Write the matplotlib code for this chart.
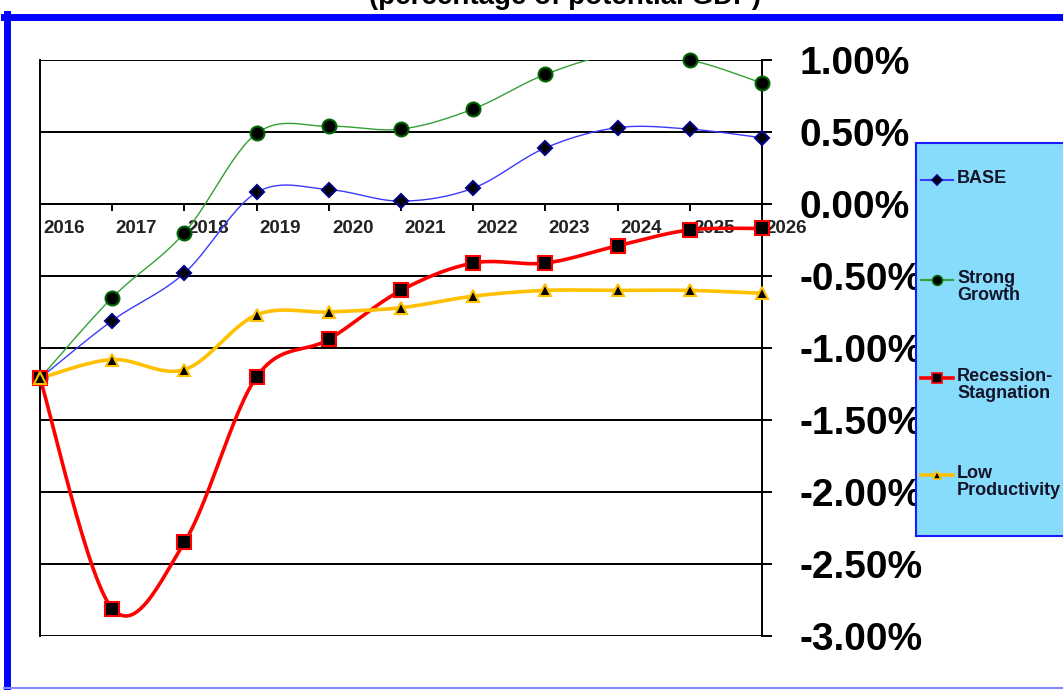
import numpy as np
import matplotlib.pyplot as plt
from matplotlib.lines import Line2D

plt.rcParams['font.family'] = ['Liberation Sans', 'DejaVu Sans']

years = ['2016', '2017', '2018', '2019', '2020', '2021',
         '2022', '2023', '2024', '2025', '2026']

# output gap, % of potential GDP
base       = [-1.21, -0.81, -0.48, 0.08, 0.10, 0.02, 0.11, 0.39, 0.53, 0.52, 0.46]
strong     = [-1.21, -0.65, -0.20, 0.49, 0.54, 0.52, 0.66, 0.90, 1.04, 1.00, 0.84]
recession  = [-1.21, -2.81, -2.35, -1.20, -0.94, -0.60, -0.41, -0.41, -0.29, -0.18, -0.17]
low_prod   = [-1.21, -1.08, -1.15, -0.77, -0.75, -0.72, -0.64, -0.60, -0.60, -0.60, -0.62]

yticks = [1.0, 0.5, 0.0, -0.5, -1.0, -1.5, -2.0, -2.5, -3.0]
ytick_labels = ['1.00%', '0.50%', '0.00%', '-0.50%', '-1.00%',
                '-1.50%', '-2.00%', '-2.50%', '-3.00%']

W, H = 1063, 690


def fx(x):
    return x / W


def fy(y):
    return 1 - y / H


def smooth(xs, ys, n=30):
    """
    Catmull-Rom style bezier smoothing through every point.
    """
    xs = np.asarray(xs, float)
    ys = np.asarray(ys, float)
    px = np.concatenate(([xs[0]], xs, [xs[-1]]))
    py = np.concatenate(([ys[0]], ys, [ys[-1]]))
    t = np.linspace(0, 1, n)
    outx, outy = [], []
    for i in range(len(xs) - 1):
        p0 = np.array([px[i + 1], py[i + 1]])
        p3 = np.array([px[i + 2], py[i + 2]])
        c1 = p0 + (p3 - np.array([px[i], py[i]])) / 6
        c2 = p3 - (np.array([px[i + 3], py[i + 3]]) - p0) / 6
        b = ((1 - t) ** 3)[:, None] * p0 + (3 * (1 - t) ** 2 * t)[:, None] * c1 \
            + (3 * (1 - t) * t ** 2)[:, None] * c2 + (t ** 3)[:, None] * p3
        outx.extend(b[:, 0])
        outy.extend(b[:, 1])
    return outx, outy


fig = plt.figure(figsize=(W / 100, H / 100), dpi=100)

ax = fig.add_axes([fx(40), fy(636), fx(762 - 40), (636 - 60) / H])
ax.set_xlim(0, 10)
ax.set_ylim(-3, 1)

series = [
    (base, '#3a3aff', 1.0, 'D', 7, '#000080'),
    (strong, '#33a033', 1.0, 'o', 10, '#006400'),
    (recession, '#ff0000', 2.6, 's', 10, '#ff0000'),
    (low_prod, '#ffc000', 2.6, '^', 9, '#ffc000'),
]
x = np.arange(len(years))
for vals, col, lw, mk, ms, mec in series:
    sx, sy = smooth(x, vals)
    ax.plot(sx, sy, color=col, lw=lw, zorder=3)
    vals = np.array(vals)
    inside = (vals <= 1.0) & (vals >= -3.0)
    ax.plot(x[inside], vals[inside], ls='none', marker=mk, ms=ms,
            mfc='black', mec=mec, mew=1.5, zorder=4, clip_on=False)

# horizontal grid and frame
for v in yticks:
    ax.axhline(v, color='black', lw=1.4, zorder=1)
ax.spines['top'].set_visible(False)
ax.spines['left'].set_linewidth(1.4)
ax.spines['right'].set_linewidth(1.4)
ax.spines['bottom'].set_position(('data', 0))
ax.spines['bottom'].set_linewidth(1.4)

ax.set_xticks(x[1:])
ax.set_xticklabels([])
ax.tick_params(axis='x', direction='out', length=5, width=1.4)
for i, yr in enumerate(years):
    ax.text(i + 0.33, -0.11, yr, ha='center', va='top', fontsize=13.5,
            fontweight='bold', color='#222222', zorder=2)

ax.yaxis.tick_right()
ax.set_yticks(yticks)
ax.set_yticklabels(ytick_labels)
ax.tick_params(axis='y', direction='out', length=7, width=1.4, pad=20,
               labelsize=28)
for lab in ax.get_yticklabels():
    lab.set_fontweight('bold')

# legend panel
lax = fig.add_axes([fx(916), fy(536), fx(1063 - 916) + 0.02, (536 - 143) / H])
lax.set_facecolor('#88dcfb')
lax.set_xlim(916, 1063 + 21)
lax.set_ylim(536, 143)
lax.set_xticks([])
lax.set_yticks([])
for sp in lax.spines.values():
    sp.set_color('#1a1aff')
    sp.set_linewidth(1.5)

entries = [
    ('BASE', 180, '#3a3aff', 1.5, 'D', 5, '#000080'),
    ('Strong\nGrowth', 280, '#33a033', 1.5, 'o', 7, '#006400'),
    ('Recession-\nStagnation', 378, '#ff0000', 2.6, 's', 7, '#ff0000'),
    ('Low\nProductivity', 475, '#ffc000', 2.6, '^', 6, '#ffc000'),
]
for label, yy, col, lw, mk, ms, mec in entries:
    lax.add_line(Line2D([921, 953], [yy, yy], color=col, lw=lw))
    lax.add_line(Line2D([937], [yy], marker=mk, ms=ms, mfc='black',
                        mec=mec, mew=1.2, ls='none'))
    lax.text(957, yy - 10, label, ha='left', va='top', fontsize=13,
             fontweight='bold', color='#141428', linespacing=0.98)

# outer frame and title above it
fig.text(fx(565), fy(4), '(percentage of potential GDP)', ha='center',
         va='baseline', fontsize=20, fontweight='bold')
fig.add_artist(Line2D([fx(7), fx(7)], [fy(14), fy(690)], color='#0000ff', lw=5))
fig.add_artist(Line2D([fx(4), fx(1063)], [fy(17), fy(17)], color='#0000ff', lw=5))
fig.add_artist(Line2D([fx(4), fx(1063)], [fy(688), fy(688)], color='#8888ff', lw=1.5))

fig.savefig('out.png', dpi=100)
